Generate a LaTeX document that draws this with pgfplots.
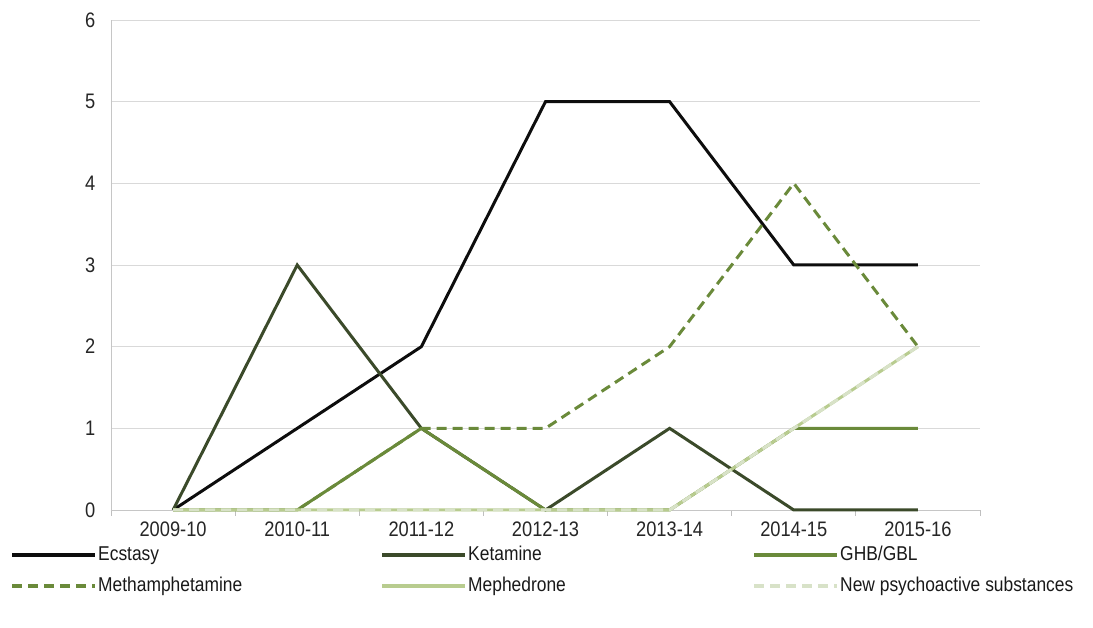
\documentclass[border=0pt]{standalone}
\usepackage{pgfplots}
\pgfplotsset{compat=1.18}
\usepackage{fontspec}
\setmainfont[FakeStretch=0.87]{Liberation Sans}
\definecolor{cEcs}{HTML}{0D0D0D}
\definecolor{cKet}{HTML}{3B4A2A}
\definecolor{cGHB}{HTML}{6A8A3A}
\definecolor{cMeph}{HTML}{B8CC8F}
\definecolor{cNPS}{HTML}{D8E2C8}
\newcommand{\ff}{\fontsize{21}{25}\selectfont}
\newcommand{\lf}{\fontsize{20}{24}\selectfont}
\begin{document}
\begin{tikzpicture}
\useasboundingbox (0,0) rectangle (1093pt,627pt);
\begin{axis}[
  at={(111pt,117pt)}, anchor=south west,
  scale only axis, width=869pt, height=490pt,
  xmin=-0.5, xmax=6.5, ymin=0, ymax=6,
  xtick={0,...,6},
  xticklabels={2009-10,2010-11,2011-12,2012-13,2013-14,2014-15,2015-16},
  minor xtick={-0.5,0.5,...,6.5},
  ytick={0,...,6},
  major x tick style={draw=none},
  major y tick style={draw=none},
  minor tick length=6pt,
  tick align=outside,
  minor x tick style={gray!50, line width=0.8pt},
  axis lines*=left,
  axis line style={gray!45, line width=0.8pt, -},
  ymajorgrids, grid style={gray!30, line width=0.8pt},
  tick label style={font=\ff, text=black!85},
  /pgf/number format/assume math mode=true,
  xticklabel style={yshift=-4pt},
  yticklabel style={xshift=-8pt},
  legend columns=3,
  legend style={draw=none, fill=none, inner sep=0pt, column sep=0pt, row sep=10pt,
    at={(-0.1162,-0.069)}, anchor=north west,
    nodes={inner sep=1pt, text height=15pt, text depth=4pt, font=\lf, text=black!90}},
  legend cell align=left,
  legend image code/.code={\draw[#1, line width=4pt] (0pt,0pt) -- (83pt,0pt);},
  clip=false,
]
\addplot[cEcs, line width=3pt] coordinates {(0,0)(1,1)(2,2)(3,5)(4,5)(5,3)(6,3)};
\addlegendentry{\makebox[281pt][l]{Ecstasy}}
\addplot[cKet, line width=3pt] coordinates {(0,0)(1,3)(2,1)(3,0)(4,1)(5,0)(6,0)};
\addlegendentry{\makebox[283pt][l]{Ketamine}}
\addplot[cGHB, line width=3pt] coordinates {(0,0)(1,0)(2,1)(3,0)(4,0)(5,1)(6,1)};
\addlegendentry{GHB/GBL}
\addplot[cGHB, line width=3pt, dash pattern=on 10pt off 6pt] coordinates {(0,0)(1,0)(2,1)(3,1)(4,2)(5,4)(6,2)};
\addlegendentry{\makebox[281pt][l]{Methamphetamine}}
\addplot[cMeph, line width=3pt] coordinates {(0,0)(1,0)(2,0)(3,0)(4,0)(5,1)(6,2)};
\addlegendentry{\makebox[283pt][l]{Mephedrone}}
\addplot[cNPS, line width=3pt, dash pattern=on 10pt off 6pt] coordinates {(0,0)(1,0)(2,0)(3,0)(4,0)(5,1)(6,2)};
\addlegendentry{New psychoactive substances}
\end{axis}
\end{tikzpicture}
\end{document}
